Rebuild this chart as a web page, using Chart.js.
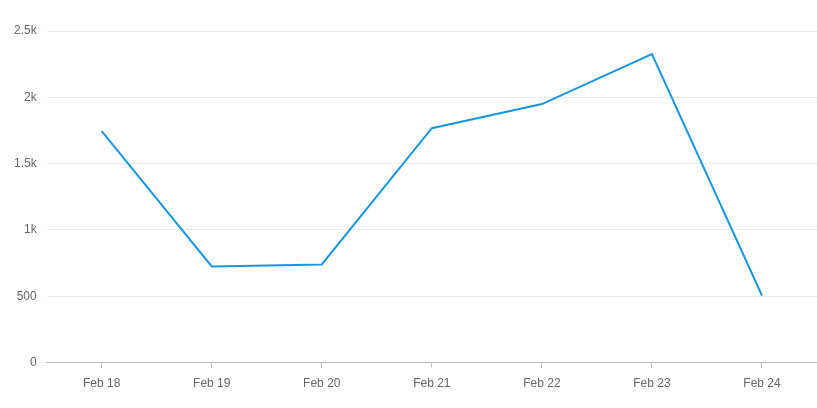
<!DOCTYPE html>
<html>
<head>
<meta charset="utf-8">
<script src="https://cdn.jsdelivr.net/npm/chart.js@4.4.0/dist/chart.umd.min.js"></script>
<style>
  html, body { margin: 0; padding: 0; background: #fff; }
  #wrap { width: 817px; height: 408px; position: relative; }
</style>
</head>
<body>
<div id="wrap"><canvas id="grafico"></canvas></div>
<script>
// dados
const categorias = ['Feb 18', 'Feb 19', 'Feb 20', 'Feb 21', 'Feb 22', 'Feb 23', 'Feb 24'];
const valores = [1745, 725, 740, 1767, 1949, 2326, 506];
const ticksY = [0, 500, 1000, 1500, 2000, 2500];
const rotulosY = ['0', '500', '1k', '1.5k', '2k', '2.5k'];

document.addEventListener('DOMContentLoaded', function() {
    const ctx = document.getElementById('grafico').getContext('2d');

    new Chart(ctx, {
        type: 'line',
        data: {
            labels: categorias,
            datasets: [{
                data: valores,
                borderColor: '#1a96dc',
                borderWidth: 2,
                pointRadius: 0,
                tension: 0,
                fill: false
            }]
        },
        options: {
            responsive: true,
            maintainAspectRatio: false,
            animation: false,
            layout: { padding: { top: 31, right: 0, bottom: 8, left: 4 } },
            plugins: {
                legend: { display: false },
                tooltip: { enabled: false }
            },
            scales: {
                x: {
                    offset: true,
                    grid: {
                        display: true,
                        drawOnChartArea: false,
                        drawTicks: true,
                        tickLength: 5,
                        color: '#bbbbbb'
                    },
                    border: { color: '#bbbbbb' },
                    ticks: {
                        color: '#666',
                        font: { family: 'Arial, "Liberation Sans"', size: 12 },
                        padding: 9,
                        maxRotation: 0
                    }
                },
                y: {
                    min: 0,
                    max: 2500,
                    afterBuildTicks: function(axis) {
                        axis.ticks = ticksY.map(v => ({ value: v }));
                    },
                    grid: {
                        color: '#ebebeb',
                        drawTicks: false
                    },
                    border: { display: false },
                    ticks: {
                        color: '#666',
                        font: { family: 'Arial, "Liberation Sans"', size: 12 },
                        padding: 10,
                        callback: function(value) {
                            const i = ticksY.indexOf(value);
                            return i >= 0 ? rotulosY[i] : '';
                        }
                    }
                }
            }
        }
    });
});
</script>
</body>
</html>
